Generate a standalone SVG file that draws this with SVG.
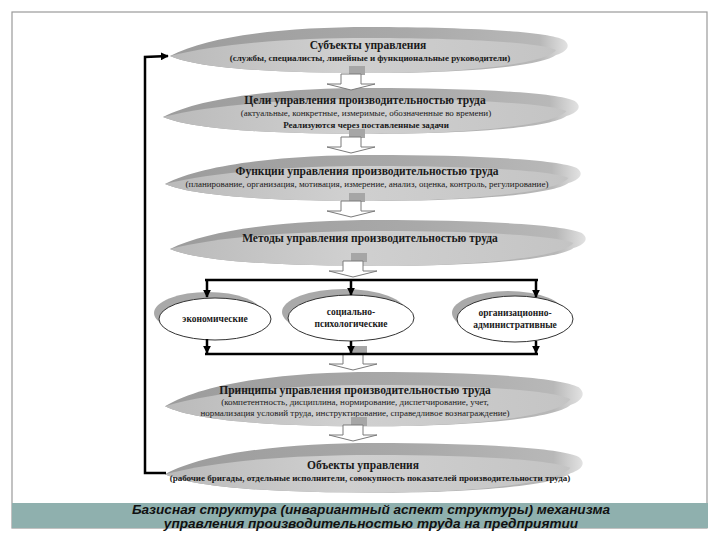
<svg xmlns="http://www.w3.org/2000/svg" width="720" height="540" viewBox="0 0 720 540">
<defs>
<linearGradient id="rim" x1="0" y1="0" x2="1" y2="0">
<stop offset="0" stop-color="#9c9c9c"/>
<stop offset="0.6" stop-color="#a9a9a9"/>
<stop offset="0.93" stop-color="#b8b8b8"/>
<stop offset="1" stop-color="#e2e2e2"/>
</linearGradient>
<linearGradient id="face" x1="0" y1="0" x2="1" y2="0">
<stop offset="0" stop-color="#bababa"/>
<stop offset="0.45" stop-color="#d0d0d0"/>
<stop offset="1" stop-color="#c4c4c4"/>
</linearGradient>
<g id="disc">
<path d="M0,29 C40,8 120,0 200,0 C290,0 378,4 396,13 C404,19 398,25 388,28 C372,40 290,46 200,46 C110,46 30,42 0,29 Z" fill="url(#rim)"/>
<path d="M0,29 C50,16 125,11 200,11 C290,11 368,15 388,23 C376,38 290,46 200,46 C110,46 30,42 0,29 Z" fill="url(#face)"/>
</g>
<g id="barrow">
<rect x="-2" y="-8" width="16" height="9" fill="#a6a6a6"/>
<path d="M-10,0 H10 V10 H24 L0,16 L-24,10 H-10 Z" fill="#fff" stroke="#7a7a7a" stroke-width="1"/>
</g>
<marker id="ah" viewBox="0 0 10 10" refX="9" refY="5" markerWidth="3.2" markerHeight="3.2" orient="auto" markerUnits="strokeWidth">
<path d="M0,0 L10,5 L0,10 Z" fill="#000"/>
</marker>
</defs>
<style>
.t{font-family:"Liberation Serif","Times New Roman",serif;fill:#1a1a1a;text-anchor:middle}
.h{font-size:11.5px;font-weight:bold}
.s{font-size:9px}
.sb{font-size:9px;font-weight:bold}
.m{font-size:9.5px;font-weight:bold}
.c{stroke:#000;stroke-width:2.5;fill:none}
.cap{font-family:"Liberation Sans",Arial,sans-serif;font-size:13.6px;font-weight:bold;font-style:italic;fill:#111;text-anchor:middle}
</style>
<rect x="12" y="12" width="695" height="516" fill="#fff" stroke="#9a9a9a" stroke-width="1.2"/>
<rect x="12" y="503" width="696" height="25" fill="#8fb0ae"/>

<g id="n1">
<use href="#disc" transform="translate(170,27) scale(0.995,1)"/>
<text class="t h" x="368" y="49">Субъекты управления</text>
<text class="t sb" x="370" y="61">(службы, специалисты, линейные и функциональные руководители)</text>
</g>
<g id="n2">
<use href="#disc" transform="translate(163,88) scale(1.04,1)"/>
<text class="t h" x="365" y="104">Цели управления производительностью труда</text>
<text class="t s" x="366" y="116">(актуальные, конкретные, измеримые, обозначенные во времени)</text>
<text class="t sb" x="366" y="128">Реализуются через поставленные задачи</text>
</g>
<g id="n3">
<use href="#disc" transform="translate(165,155) scale(1.04,1)"/>
<text class="t h" x="367" y="175">Функции управления производительностью труда</text>
<text class="t s" x="367" y="187">(планирование, организация, мотивация, измерение, анализ, оценка, контроль, регулирование)</text>
</g>
<g id="n4">
<use href="#disc" transform="translate(170,220) scale(1.04,1)"/>
<text class="t h" x="370" y="242">Методы управления производительностью труда</text>
</g>
<g id="n5">
<use href="#disc" transform="translate(165,372) scale(1.045,1.18)"/>
<text class="t h" x="355" y="394">Принципы управления производительностью труда</text>
<text class="t s" x="355" y="405">(компетентность, дисциплина, нормирование, диспетчирование, учет,</text>
<text class="t s" x="355" y="416">нормализация условий труда, инструктирование, справедливое вознаграждение)</text>
</g>
<g id="n6">
<use href="#disc" transform="translate(165,443) scale(1.045,1.08)"/>
<text class="t h" x="363" y="469">Объекты управления</text>
<text class="t sb" x="370" y="481">(рабочие бригады, отдельные исполнители, совокупность показателей производительности труда)</text>
</g>

<g id="e1">
<ellipse cx="208" cy="313" rx="54" ry="21" fill="#a9a9a9"/>
<ellipse cx="215" cy="319" rx="56" ry="21" fill="#fff" stroke="#333" stroke-width="1"/>
<text class="t m" x="215" y="322">экономические</text>
</g>
<g id="e2">
<ellipse cx="344" cy="312" rx="62" ry="23" fill="#a9a9a9"/>
<ellipse cx="351" cy="318" rx="63" ry="23" fill="#fff" stroke="#333" stroke-width="1"/>
<text class="t m" x="351" y="315">социально-</text>
<text class="t m" x="351" y="327">психологические</text>
</g>
<g id="e3">
<ellipse cx="508" cy="313" rx="56" ry="22" fill="#a9a9a9"/>
<ellipse cx="515" cy="319" rx="58" ry="23" fill="#fff" stroke="#333" stroke-width="1"/>
<text class="t m" x="515" y="316">организационно-</text>
<text class="t m" x="515" y="328">административные</text>
</g>

<g id="connectors">
<use href="#barrow" transform="translate(351,74)"/>
<use href="#barrow" transform="translate(351,137)"/>
<use href="#barrow" transform="translate(351,201)"/>
<use href="#barrow" transform="translate(353,261)"/>
<use href="#barrow" transform="translate(353,354)"/>
<use href="#barrow" transform="translate(353,425)"/>
<path class="c" d="M205,280 H538"/>
<path class="c" d="M207,280 V297" marker-end="url(#ah)"/>
<path class="c" d="M351,280 V295" marker-end="url(#ah)"/>
<path class="c" d="M536,280 V297" marker-end="url(#ah)"/>
<path class="c" d="M205,354 H538"/>
<path class="c" d="M207,339 V353" marker-end="url(#ah)"/>
<path class="c" d="M351,341 V353" marker-end="url(#ah)"/>
<path class="c" d="M536,341 V353" marker-end="url(#ah)"/>
<path class="c" d="M166,473 H145 V57 L168,56" marker-end="url(#ah)"/>
</g>

<text class="cap" x="371" y="514">Базисная структура (инвариантный аспект структуры) механизма</text>
<text class="cap" x="371" y="528">управления производительностью труда на предприятии</text>
</svg>
